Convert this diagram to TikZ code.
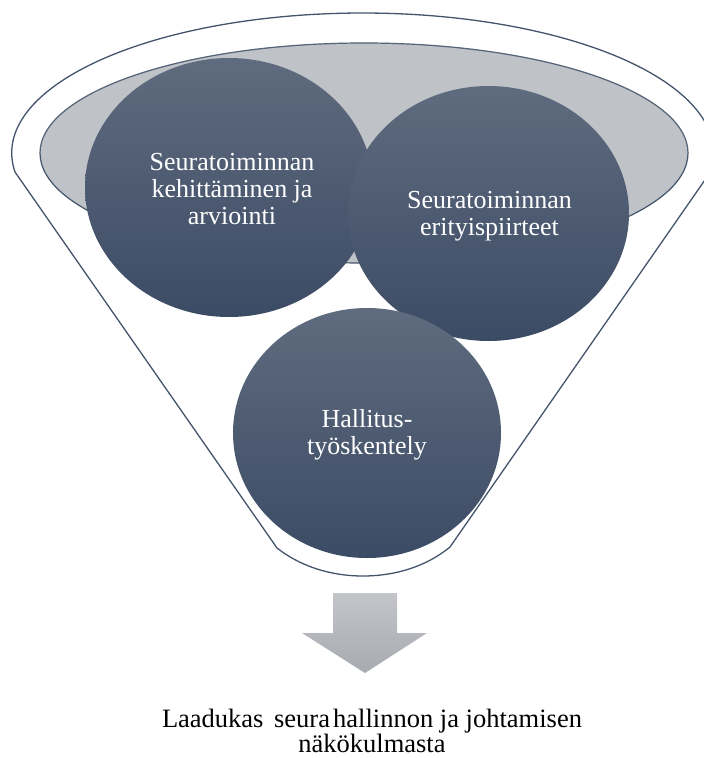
\documentclass[tikz,border=0pt]{standalone}
\usepackage{fontspec}
\setmainfont{Liberation Serif}
\usetikzlibrary{shapes.geometric}
\definecolor{lineblue}{HTML}{44546A}
\definecolor{bowlgray}{HTML}{BFC2C7}
\definecolor{balltop}{HTML}{5F6B7E}
\definecolor{ballbot}{HTML}{3C4B65}
\definecolor{arrowtop}{HTML}{C3C5C9}
\definecolor{arrowbot}{HTML}{A7AAB0}
\newcommand{\captionfont}{\fontsize{26.5}{25}\selectfont\lineskiplimit=-50pt\relax}
\tikzset{
  funnel/.style={draw=lineblue, line width=1.3pt, fill=white, line join=round},
  bowl/.style={ellipse, draw=lineblue, line width=1.2pt, fill=bowlgray, inner sep=0pt},
  ball/.style={ellipse, inner sep=0pt, top color=balltop, bottom color=ballbot, draw=none},
  balltext/.style={align=center, text=white, font=\fontsize{26}{27}\selectfont, inner sep=0pt},
  captext/.style={align=center, text=black, font=\captionfont, inner sep=0pt},
}
\begin{document}
\begin{tikzpicture}[x=1pt,y=-1pt]
\useasboundingbox (0,0) rectangle (704,758);
% funnel outline
\draw[funnel] (15,172) arc[start angle=187.8, end angle=-7.8, x radius=351pt, y radius=140pt]
  -- (450,547) .. controls (427,566) and (396,576) .. (363,576)
  .. controls (330,576) and (300,566) .. (277,548) -- cycle;
% bowl
\node[bowl, minimum width=648pt, minimum height=220pt] (bowl) at (364,153) {};
% balls
\node[ball, minimum width=288pt, minimum height=259pt] (left) at (229,187.5) {};
\node[ball, minimum width=281pt, minimum height=255pt] (right) at (488.5,213.5) {};
% faint bowl rim seen through the balls
\draw[white, opacity=0.10, line width=1pt] (40,153) arc[start angle=180, end angle=360, x radius=324pt, y radius=-110pt];
\node[ball, minimum width=268pt, minimum height=250pt] (bottom) at (367,433) {};
% texts
\node[balltext] (tl) at (232,189.2) {Seuratoiminnan\\kehittäminen ja\\arviointi};
\node[balltext] (tr) at (489.5,216.5) {Seuratoiminnan\\erityispiirteet};
\node[balltext] (tb) at (367,434.5) {Hallitus-\\työskentely};
% arrow
\shade[top color=arrowtop, bottom color=arrowbot]
  (333,593) -- (397,593) -- (397,633) -- (427,633) -- (365,673) -- (302,633) -- (333,633) -- cycle;
% caption
\node[captext] (cap) at (372,730.5) {Laadukas\hspace{0.4em}seura\hspace{0.12em}hallinnon ja johtamisen\\näkökulmasta};
\end{tikzpicture}
\end{document}
